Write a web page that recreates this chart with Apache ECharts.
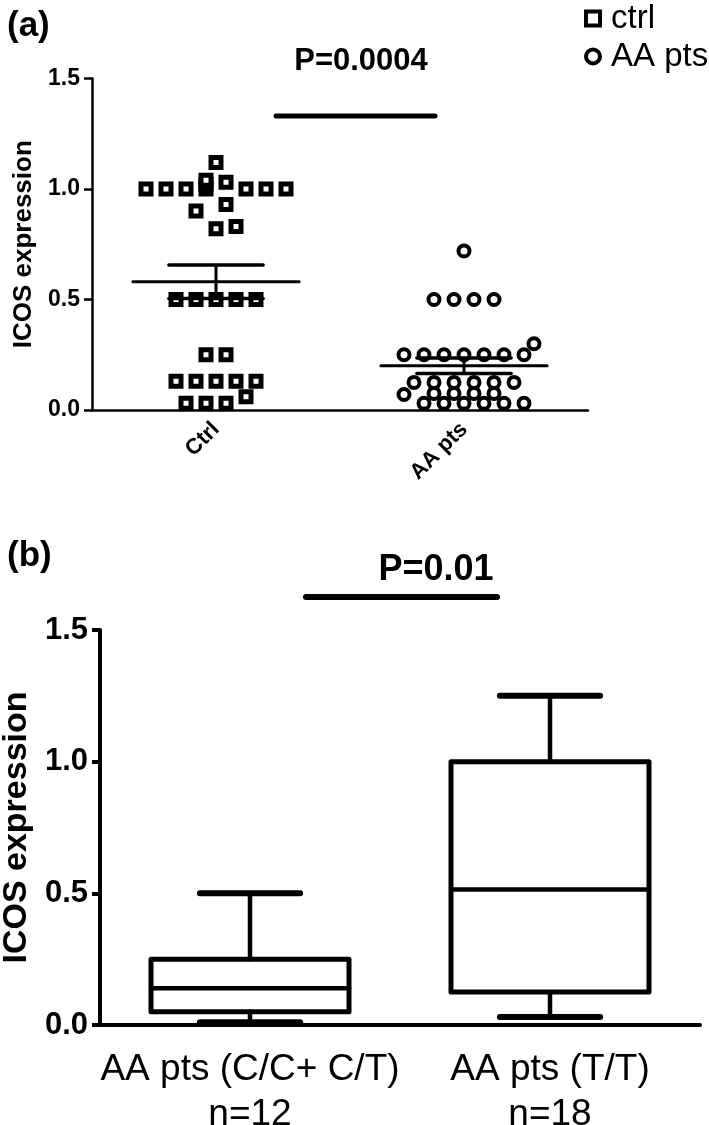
<!DOCTYPE html>
<html><head><meta charset="utf-8">
<script src="https://cdn.jsdelivr.net/npm/echarts@6/dist/echarts.min.js"></script>
<style>html,body{margin:0;padding:0;background:#fff}#c{width:709px;height:1125px}</style>
</head><body><div id="c"></div>
<script>
// ---------- Panel (a) data ----------
const catsA = ['Ctrl', 'AA pts'];
// horizontal jitter slot of each point and its value
const ctrlSlot = [-3.5,-2.5,-1.5,-0.5,-0.5,-0.5,0.5,1.5,2.5,3.5, 0,0.5,-1,0,1, -2,-1,0,1,2, -0.5,0.5, -2,-1,0,1,2, 1.5, -1.5,-0.5,0.5];
const ctrlY    = [1.0,1.0,1.0,1.0,1.02,1.04,1.03,1.0,1.0,1.0, 1.12,0.93,0.90,0.82,0.83, 0.5,0.5,0.5,0.5,0.5, 0.25,0.25, 0.13,0.13,0.13,0.13,0.13, 0.06, 0.03,0.03,0.03];
const aaSlot   = [0, -1.5,-0.5,0.5,1.5, -3,-2,-1,0,1,2,3, 3.5, -2.5,-1.5,-0.5,0.5,1.5,2.5, -3, -1.5,-0.5,0.5,1.5, -2,-1,0,1,2,3];
const aaY      = [0.72, 0.5,0.5,0.5,0.5, 0.25,0.25,0.25,0.25,0.25,0.25,0.25, 0.30, 0.125,0.125,0.125,0.125,0.125,0.125, 0.07, 0.075,0.075,0.075,0.075, 0.03,0.03,0.03,0.03,0.03,0.03];
const meanA = [0.58, 0.20];
const semA  = [0.076, 0.035];
const yTicksA = [0, 0.5, 1.0, 1.5];
const legendA = ['ctrl', 'AA pts'];
const pTextA = 'P=0.0004';

// ---------- Panel (b) data ----------
const catsB = ['AA pts (C/C+ C/T)\nn=12', 'AA pts (T/T)\nn=18'];
const boxMin = [0.01, 0.03];
const boxQ1  = [0.05, 0.125];
const boxMed = [0.14, 0.515];
const boxQ3  = [0.25, 1.0];
const boxMax = [0.5, 1.25];
const yTicksB = [0, 0.5, 1.0, 1.5];
const pTextB = 'P=0.01';

const SLOT = 20 / 248; // jitter slot width in category units
const FONT = "'Liberation Sans', Arial, Helvetica, sans-serif";

const ctrlData = ctrlY.map((v, i) => [0.5 + ctrlSlot[i] * SLOT, v]);
const aaData = aaY.map((v, i) => [1.5 + aaSlot[i] * SLOT, v]);
const meanData = meanA.map((m, i) => [i + 0.5, m, semA[i]]);
const boxData = boxMin.map((v, i) => [i, v, boxQ1[i], boxMed[i], boxQ3[i], boxMax[i]]);

const chart = echarts.init(document.getElementById('c'), null, {renderer: 'canvas'});

function yAxisCommon(grid, ticks, lw, fs, gap, nameFs, tickLen, margin) {
  return {
    type: 'value', gridIndex: grid, min: 0, max: 1.5, interval: 0.5,
    name: 'ICOS expression', nameLocation: 'middle', nameGap: gap, nameRotate: 90,
    nameTextStyle: {fontFamily: FONT, fontWeight: 'bold', fontSize: nameFs, color: '#000'},
    axisLine: {show: true, lineStyle: {color: '#000', width: lw}},
    axisTick: {show: true, length: tickLen, lineStyle: {color: '#000', width: lw}},
    axisLabel: {fontFamily: FONT, fontWeight: 'bold', fontSize: fs, color: '#000', margin: margin,
      formatter: v => ticks.indexOf(v) >= 0 ? v.toFixed(1) : ''},
    splitLine: {show: false}
  };
}

const legendIcon = {color: '#fff', borderColor: '#000', borderWidth: 4};

const option = {
  animation: false,
  backgroundColor: '#fff',
  grid: [
    {left: 92, right: 121, top: 78.5, bottom: 715, outerBoundsMode: 'none', containLabel: false},
    {left: 100, right: 9, top: 630, bottom: 100, outerBoundsMode: 'none', containLabel: false}
  ],
  legend: {
    data: [
      {name: legendA[0], icon: 'rect', itemStyle: legendIcon},
      {name: legendA[1], icon: 'circle', itemStyle: legendIcon}
    ],
    orient: 'vertical', left: 579, top: -3, itemGap: 5,
    itemWidth: 14, itemHeight: 14,
    textStyle: {fontFamily: FONT, fontSize: 33, color: '#000', padding: [0, 0, 0, 6]}
  },
  xAxis: [
    {type: 'category', gridIndex: 0, data: catsA, boundaryGap: true,
      axisLine: {lineStyle: {color: '#000', width: 2.5}},
      axisTick: {alignWithLabel: true, length: 8, lineStyle: {color: '#000', width: 2.5}},
      axisLabel: {rotate: 45, interval: 0, margin: 16, fontFamily: FONT, fontWeight: 'bold', fontSize: 22, color: '#000'}},
    {type: 'value', gridIndex: 0, min: 0, max: 2, show: false},
    {type: 'category', gridIndex: 1, data: catsB, boundaryGap: true,
      axisLine: {lineStyle: {color: '#000', width: 4}},
      axisTick: {alignWithLabel: true, length: 13, lineStyle: {color: '#000', width: 4}},
      axisLabel: {interval: 0, margin: 22, fontFamily: FONT, fontSize: 37, lineHeight: 45, color: '#000'}}
  ],
  yAxis: [
    yAxisCommon(0, yTicksA, 2.5, 23, 50, 26, 8, 12),
    yAxisCommon(1, yTicksB, 4, 31, 59, 34, 8, 12)
  ],
  graphic: [
    {type: 'text', left: 7, top: 9, style: {text: '(a)', font: "bold 35px " + FONT, fill: '#000'}},
    {type: 'text', left: 7, top: 539, style: {text: '(b)', font: "bold 35px " + FONT, fill: '#000'}},
    {type: 'text', x: 361, y: 61, style: {text: pTextA, font: "bold 31px " + FONT, fill: '#000', textAlign: 'center', textVerticalAlign: 'middle'}},
    {type: 'line', shape: {x1: 276, y1: 116, x2: 435, y2: 116}, style: {stroke: '#000', lineWidth: 5, lineCap: 'round'}},
    {type: 'text', x: 436, y: 570, style: {text: pTextB, font: "bold 36px " + FONT, fill: '#000', textAlign: 'center', textVerticalAlign: 'middle'}},
    {type: 'line', shape: {x1: 306, y1: 597, x2: 497, y2: 597}, style: {stroke: '#000', lineWidth: 6, lineCap: 'round'}}
  ],
  series: [
    {name: 'ctrl', type: 'scatter', xAxisIndex: 1, yAxisIndex: 0, data: ctrlData,
      symbol: 'rect', symbolSize: 10,
      itemStyle: {color: '#fff', borderColor: '#000', borderWidth: 5, opacity: 1}},
    {name: 'AA pts', type: 'scatter', xAxisIndex: 1, yAxisIndex: 0, data: aaData,
      symbol: 'circle', symbolSize: 11,
      itemStyle: {color: '#fff', borderColor: '#000', borderWidth: 4, opacity: 1}},
    {type: 'custom', xAxisIndex: 1, yAxisIndex: 0, data: meanData, z: 5,
      encode: {x: 0, y: 1},
      renderItem: function (params, api) {
        const x = api.value(0), m = api.value(1), s = api.value(2);
        const unit = api.size([1, 0])[0];
        const c = api.coord([x, m]), t = api.coord([x, m + s]), b = api.coord([x, m - s]);
        const hm = unit * 0.335, hc = unit * 0.19;
        const st = w => ({stroke: '#000', lineWidth: w, lineCap: 'round'});
        return {type: 'group', children: [
          {type: 'line', shape: {x1: c[0] - hm, y1: c[1], x2: c[0] + hm, y2: c[1]}, style: st(3)},
          {type: 'line', shape: {x1: c[0], y1: t[1], x2: c[0], y2: b[1]}, style: st(3)},
          {type: 'line', shape: {x1: c[0] - hc, y1: t[1], x2: c[0] + hc, y2: t[1]}, style: st(3.5)},
          {type: 'line', shape: {x1: c[0] - hc, y1: b[1], x2: c[0] + hc, y2: b[1]}, style: st(3.5)}
        ]};
      }},
    {type: 'custom', xAxisIndex: 2, yAxisIndex: 1, data: boxData, z: 5,
      encode: {x: 0, y: [1, 2, 3, 4, 5]},
      renderItem: function (params, api) {
        const i = api.value(0);
        const band = api.size([1, 0])[0];
        const pMin = api.coord([i, api.value(1)]), pQ1 = api.coord([i, api.value(2)]),
              pMed = api.coord([i, api.value(3)]), pQ3 = api.coord([i, api.value(4)]),
              pMax = api.coord([i, api.value(5)]);
        const cx = pMed[0], hw = band * 0.33, hc = band * 0.167;
        const st = w => ({stroke: '#000', lineWidth: w, lineCap: 'round', fill: null});
        return {type: 'group', children: [
          {type: 'line', shape: {x1: cx, y1: pQ3[1], x2: cx, y2: pMax[1]}, style: st(4.5)},
          {type: 'line', shape: {x1: cx, y1: pQ1[1], x2: cx, y2: pMin[1]}, style: st(4.5)},
          {type: 'line', shape: {x1: cx - hc, y1: pMax[1], x2: cx + hc, y2: pMax[1]}, style: st(6)},
          {type: 'line', shape: {x1: cx - hc, y1: pMin[1], x2: cx + hc, y2: pMin[1]}, style: st(6)},
          {type: 'rect', shape: {x: cx - hw, y: pQ3[1], width: 2 * hw, height: pQ1[1] - pQ3[1]},
            style: {stroke: '#000', lineWidth: 5, fill: 'none', lineJoin: 'round'}},
          {type: 'line', shape: {x1: cx - hw, y1: pMed[1], x2: cx + hw, y2: pMed[1]}, style: st(4.5)}
        ]};
      }}
  ]
};
chart.setOption(option);
</script>
</body></html>
